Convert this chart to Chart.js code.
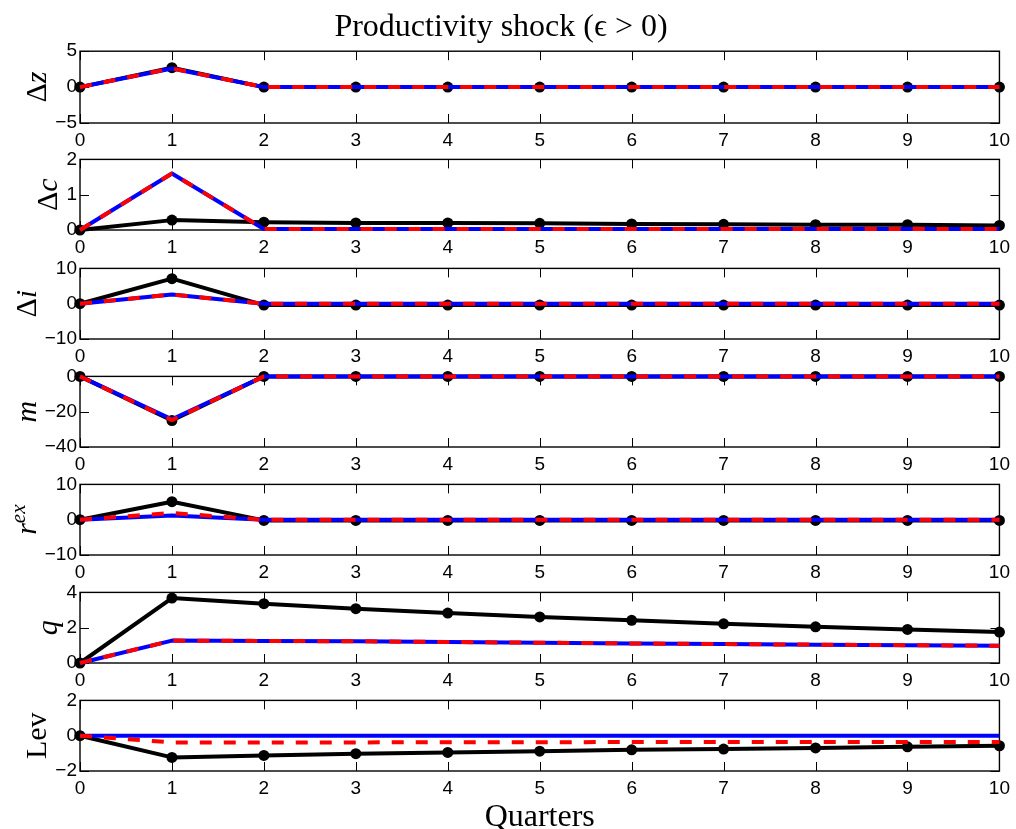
<!DOCTYPE html>
<html>
<head>
<meta charset="utf-8">
<script src="https://cdn.jsdelivr.net/npm/chart.js@4.4.1/dist/chart.umd.min.js"></script>
<style>
  html, body { margin: 0; padding: 0; background: #fff; }
  #wrap { position: relative; width: 1016px; height: 829px; overflow: hidden; }
  #wrap canvas { position: absolute; left: 0; }
</style>
</head>
<body>
<div id="wrap"></div>
<script>
// x categories
const quarters = ['0', '1', '2', '3', '4', '5', '6', '7', '8', '9', '10'];

// Δz
const dzBlack = [0, 2.7, 0, 0, 0, 0, 0, 0, 0, 0, 0];
const dzBlue  = [0, 2.6, 0, 0, 0, 0, 0, 0, 0, 0, 0];
const dzRed   = [0, 2.6, 0, 0, 0, 0, 0, 0, 0, 0, 0];
const dzTicks = [-5, 0, 5];

// Δc
const dcBlack = [0, 0.28, 0.22, 0.2, 0.2, 0.19, 0.17, 0.16, 0.15, 0.15, 0.13];
const dcBlue  = [0, 1.6, 0.03, 0.03, 0.03, 0.03, 0.03, 0.03, 0.03, 0.03, 0.03];
const dcRed   = [0, 1.6, 0.03, 0.03, 0.03, 0.03, 0.03, 0.03, 0.03, 0.03, 0.03];
const dcTicks = [0, 1, 2];

// Δi
const diBlack = [0, 7.1, -0.4, -0.4, -0.4, -0.4, -0.4, -0.4, -0.4, -0.4, -0.4];
const diBlue  = [0, 2.6, 0, 0, 0, 0, 0, 0, 0, 0, 0];
const diRed   = [0, 2.6, 0, 0, 0, 0, 0, 0, 0, 0, 0];
const diTicks = [-10, 0, 10];

// m
const mBlack = [0, -25, 0, 0, 0, 0, 0, 0, 0, 0, 0];
const mBlue  = [0, -24.3, 0, 0, 0, 0, 0, 0, 0, 0, 0];
const mRed   = [0, -24.8, 0, 0, 0, 0, 0, 0, 0, 0, 0];
const mTicks = [-40, -20, 0];

// r^ex
const rexBlack = [0, 5.1, -0.2, -0.2, -0.2, -0.2, -0.2, -0.2, -0.2, -0.2, -0.2];
const rexBlue  = [0, 1.2, 0, 0, 0, 0, 0, 0, 0, 0, 0];
const rexRed   = [0, 1.9, 0, 0, 0, 0, 0, 0, 0, 0, 0];
const rexTicks = [-10, 0, 10];

// q
const qBlack = [0, 3.68, 3.36, 3.08, 2.83, 2.61, 2.42, 2.22, 2.05, 1.9, 1.75];
const qBlue  = [0, 1.27, 1.25, 1.23, 1.19, 1.15, 1.11, 1.07, 1.04, 1.01, 0.98];
const qRed   = [0, 1.27, 1.25, 1.23, 1.19, 1.15, 1.11, 1.07, 1.04, 1.01, 0.98];
const qTicks = [0, 2, 4];

// Lev
const levBlack = [0, -1.23, -1.12, -1.02, -0.95, -0.88, -0.8, -0.76, -0.69, -0.63, -0.57];
const levBlue  = [0, 0, 0, 0, 0, 0, 0, 0, 0, 0, 0];
const levRed   = [0, -0.38, -0.38, -0.38, -0.37, -0.37, -0.36, -0.36, -0.36, -0.35, -0.35];
const levTicks = [-2, 0, 2];

const titleText = 'Productivity shock (ϵ > 0)';
const xTitle = 'Quarters';

const panels = [
  { label: [{ t: 'Δ' }, { t: 'z', it: true }], black: dzBlack, blue: dzBlue, red: dzRed, ticks: dzTicks },
  { label: [{ t: 'Δ' }, { t: 'c', it: true }], black: dcBlack, blue: dcBlue, red: dcRed, ticks: dcTicks },
  { label: [{ t: 'Δ' }, { t: 'i', it: true }], black: diBlack, blue: diBlue, red: diRed, ticks: diTicks },
  { label: [{ t: 'm', it: true }], black: mBlack, blue: mBlue, red: mRed, ticks: mTicks },
  { label: [{ t: 'r', it: true }, { t: 'ex', it: true, sup: true }], black: rexBlack, blue: rexBlue, red: rexRed, ticks: rexTicks },
  { label: [{ t: 'q', it: true }], black: qBlack, blue: qBlue, red: qRed, ticks: qTicks },
  { label: [{ t: 'Lev' }], black: levBlack, blue: levBlue, red: levRed, ticks: levTicks }
];

const TICK_FONT = { family: '"Liberation Sans", Arial, sans-serif', size: 19 };
const SERIF = '"Liberation Serif", "DejaVu Serif", serif';
const fmt = v => String(v).replace('-', '\u2212');

// box, inward ticks and y label
const framePlugin = {
  id: 'frame',
  beforeDatasetsDraw(chart) {
    const { ctx, chartArea: a, scales: { x, y } } = chart;
    ctx.save();
    ctx.strokeStyle = '#000';
    ctx.lineWidth = 1;
    ctx.beginPath();
    x.ticks.forEach((t, i) => {
      const px = Math.round(x.getPixelForTick(i)) + 0.5;
      ctx.moveTo(px, a.bottom); ctx.lineTo(px, a.bottom - 9);
      ctx.moveTo(px, a.top); ctx.lineTo(px, a.top + 9);
    });
    y.ticks.forEach(t => {
      const py = Math.round(y.getPixelForValue(t.value)) + 0.5;
      ctx.moveTo(a.left, py); ctx.lineTo(a.left + 9, py);
      ctx.moveTo(a.right, py); ctx.lineTo(a.right - 9, py);
    });
    ctx.stroke();
    ctx.lineWidth = 1.4;
    ctx.strokeRect(a.left, a.top, a.right - a.left, a.bottom - a.top);
    ctx.restore();
  },
  afterDraw(chart, args, opts) {
    const { ctx, chartArea: a, scales: { y } } = chart;
    ctx.save();
    ctx.font = TICK_FONT.size + 'px ' + TICK_FONT.family;
    const widest = Math.max(...y.ticks.map(t => ctx.measureText(fmt(t.value)).width));
    const base = a.left - 3 - widest - 9;
    const parts = opts.label.map(p => {
      const size = p.sup ? 21 : 30;
      const font = (p.it ? 'italic ' : '') + size + 'px ' + SERIF;
      ctx.font = font;
      return { t: p.t, font, sup: p.sup, w: ctx.measureText(p.t).width };
    });
    const total = parts.reduce((s, p) => s + p.w, 0);
    ctx.translate(base, (a.top + a.bottom) / 2);
    ctx.rotate(-Math.PI / 2);
    ctx.fillStyle = '#000';
    ctx.textBaseline = 'alphabetic';
    let cx = -total / 2;
    parts.forEach(p => {
      ctx.font = p.font;
      ctx.fillText(p.t, cx, p.sup ? -11 : 0);
      cx += p.w;
    });
    ctx.restore();
  }
};

const wrap = document.getElementById('wrap');
const TOP0 = 51.2, PITCH = 108.2, PH = 71.4, PAD = 14;

panels.forEach((p, i) => {
  const first = i === 0, last = i === panels.length - 1;
  const xh = last ? 66 : 30;
  const top = first ? 0 : TOP0 + i * PITCH - PAD;
  const height = first ? TOP0 + PH + xh : PAD + PH + xh;
  const cv = document.createElement('canvas');
  cv.width = 1016;
  cv.height = Math.round(height);
  cv.style.top = top + 'px';
  wrap.appendChild(cv);

  new Chart(cv, {
    type: 'line',
    data: {
      labels: quarters,
      datasets: [
        { data: p.red, borderColor: '#ff0000', borderWidth: 4, borderDash: [12, 12], pointRadius: 0, clip: false },
        { data: p.blue, borderColor: '#0000ff', borderWidth: 4, pointRadius: 0, clip: false },
        { data: p.black, borderColor: '#000', borderWidth: 4, pointRadius: 5.5, pointBackgroundColor: '#000',
          pointBorderColor: '#000', pointBorderWidth: 0, clip: false }
      ]
    },
    plugins: [framePlugin],
    options: {
      responsive: false,
      animation: false,
      events: [],
      layout: { padding: { top: first ? 0 : PAD, right: 14, left: 0, bottom: 0 } },
      elements: { line: { tension: 0, borderCapStyle: 'butt', borderJoinStyle: 'round' } },
      plugins: {
        legend: { display: false },
        tooltip: { enabled: false },
        title: {
          display: first,
          text: titleText,
          color: '#000',
          font: { family: SERIF, size: 32, weight: 'normal', lineHeight: 1.2 },
          padding: { top: 8, bottom: TOP0 - 8 - 32 * 1.2 }
        },
        frame: { label: p.label }
      },
      scales: {
        x: {
          type: 'category',
          offset: false,
          grid: { display: false, drawTicks: false },
          border: { display: false },
          ticks: { color: '#000', font: TICK_FONT, padding: 6, maxRotation: 0, autoSkip: false },
          title: {
            display: last,
            text: xTitle,
            color: '#000',
            font: { family: SERIF, size: 32, lineHeight: 1.2 },
            padding: { top: 0, bottom: 0 }
          },
          afterFit(s) { s.height = xh; }
        },
        y: {
          min: p.ticks[0],
          max: p.ticks[p.ticks.length - 1],
          afterBuildTicks(s) { s.ticks = p.ticks.map(v => ({ value: v })); },
          grid: { display: false, drawTicks: false },
          border: { display: false },
          ticks: { color: '#000', font: TICK_FONT, padding: 3, callback: v => fmt(v) },
          afterFit(s) { s.width = 80; }
        }
      }
    }
  });
});
</script>
</body>
</html>
